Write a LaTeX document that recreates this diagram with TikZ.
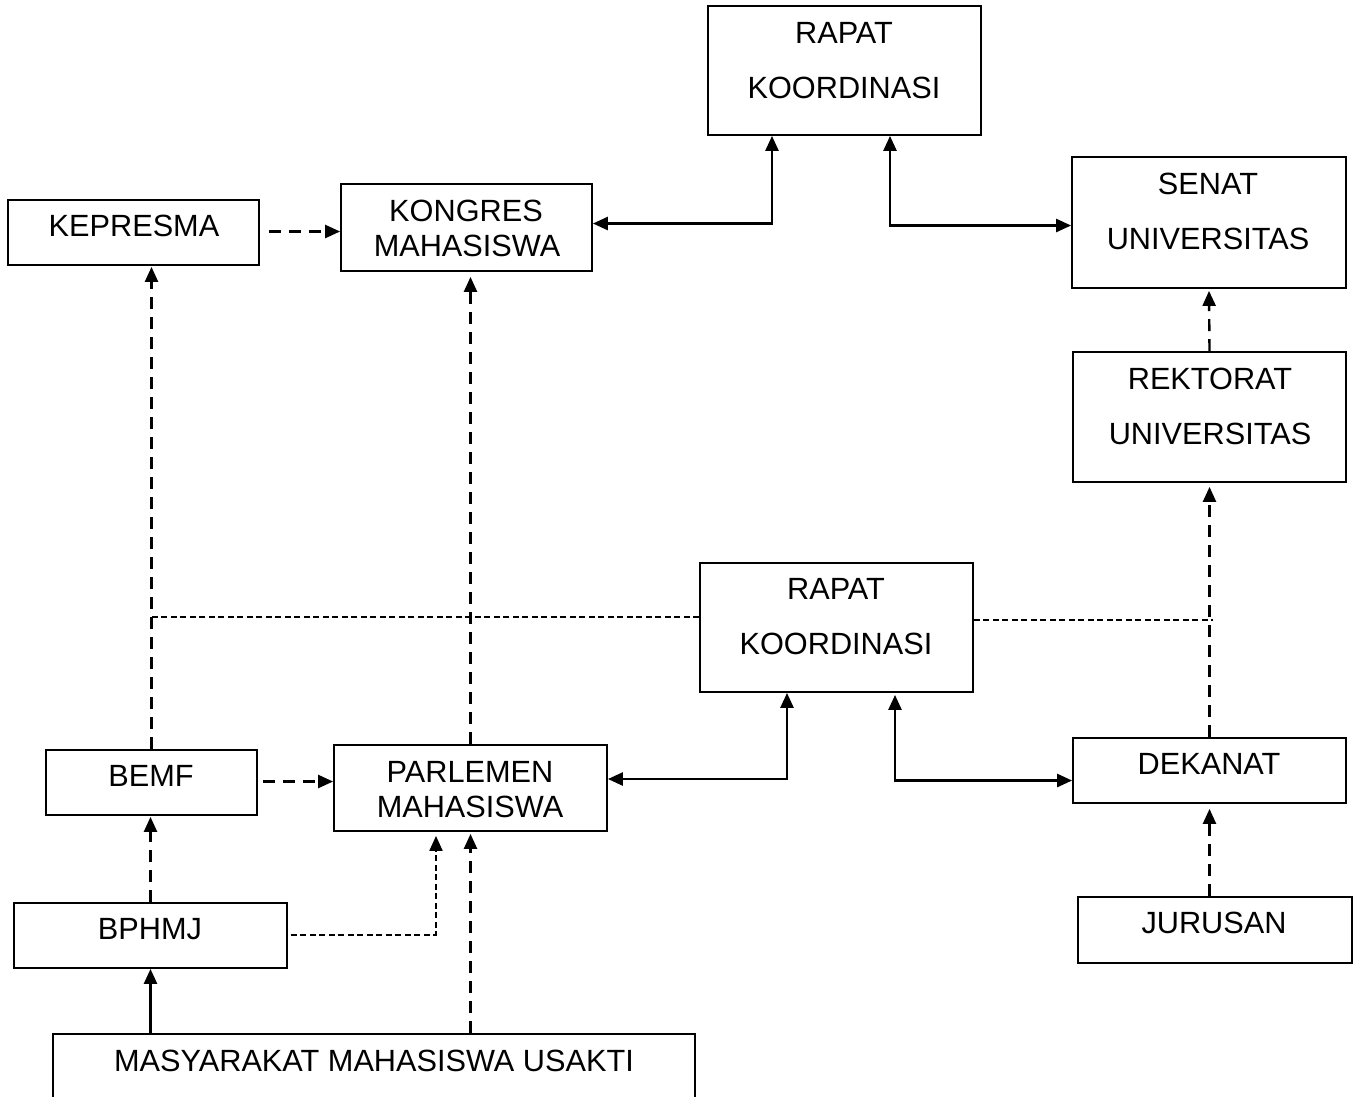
\documentclass[tikz,border=0pt]{standalone}
\usepackage{fontspec}
\setmainfont{Liberation Sans}
\usetikzlibrary{arrows.meta}
\begin{document}
\begin{tikzpicture}[x=1pt,y=-1pt,
  >={Triangle[length=15pt,width=13pt]},
  box/.style={draw,line width=1.8pt,rectangle,inner sep=0pt},
  lbl/.style={font=\fontsize{30.7}{36}\selectfont,inner sep=0pt},
  solidc/.style={line width=2.6pt},
  dsh/.style={line width=2.4pt,dash pattern=on 12pt off 8pt},
  fine/.style={line width=2pt,dash pattern=on 6pt off 3.5pt}]
\useasboundingbox (0,0) rectangle (1356,1096);
\clip (0,0) rectangle (1356,1096);
\fill[white] (0,0) rectangle (1356,1096);
% boxes
\node[box,minimum width=273pt,minimum height=129pt] (rk1) at (844.5,70.5) {};
\node[box,minimum width=251pt,minimum height=65pt]  (kep) at (133.5,232.5) {};
\node[box,minimum width=251pt,minimum height=87pt]  (kon) at (466.5,227.5) {};
\node[box,minimum width=274pt,minimum height=131pt] (sen) at (1209,222.5) {};
\node[box,minimum width=273pt,minimum height=130pt] (rek) at (1209.5,417) {};
\node[box,minimum width=273pt,minimum height=129pt] (rk2) at (836.5,627.5) {};
\node[box,minimum width=211pt,minimum height=65pt]  (bem) at (151.5,782.5) {};
\node[box,minimum width=273pt,minimum height=86pt]  (par) at (470.5,788) {};
\node[box,minimum width=273pt,minimum height=65pt]  (dek) at (1209.5,770.5) {};
\node[box,minimum width=274pt,minimum height=66pt]  (jur) at (1215,930) {};
\node[box,minimum width=273pt,minimum height=65pt]  (bph) at (150.5,935.5) {};
\node[box,minimum width=642pt,minimum height=90pt]  (mas) at (374,1079) {};
% labels
\node[lbl] (rk1a) at (844,33) {RAPAT};
\node[lbl] (rk1b) at (844,88) {KOORDINASI};
\node[lbl] (kepa) at (134,226) {KEPRESMA};
\node[lbl] (kona) at (466,211) {KONGRES};
\node[lbl] (konb) at (467,246) {MAHASISWA};
\node[lbl] (sena) at (1208,184) {SENAT};
\node[lbl] (senb) at (1208,239) {UNIVERSITAS};
\node[lbl] (reka) at (1210,379) {REKTORAT};
\node[lbl] (rekb) at (1210,434) {UNIVERSITAS};
\node[lbl] (rk2a) at (836,589) {RAPAT};
\node[lbl] (rk2b) at (836,644) {KOORDINASI};
\node[lbl] (bema) at (151,776) {BEMF};
\node[lbl] (para) at (470,772) {PARLEMEN};
\node[lbl] (parb) at (470,807) {MAHASISWA};
\node[lbl] (deka) at (1209,764) {DEKANAT};
\node[lbl] (jura) at (1214,923) {JURUSAN};
\node[lbl] (bpha) at (150,929) {BPHMJ};
\node[lbl] (masa) at (374,1061) {MASYARAKAT MAHASISWA USAKTI};
% solid connectors
\draw[solidc,<->] ([yshift=4pt]kon.east) -| ([xshift=-72.5pt]rk1.south);
\draw[solidc,<->] ([xshift=45.5pt]rk1.south) |- ([yshift=-3pt]sen.west);
\draw[solidc,<->] ([yshift=9pt]par.east) -| ([xshift=-49.5pt]rk2.south);
\draw[solidc,<->] ([xshift=58.5pt,yshift=-2pt]rk2.south) |- ([yshift=-10pt]dek.west);
\draw[solidc,->] (mas.north -| bph.south) -- (bph.south);
% dashed connectors
\draw[dsh,->] ([xshift=9pt,yshift=1pt]kep.east) -- ([yshift=1pt]kon.west |- kep.east);
\draw[dsh,->] (rek.north) -- ([yshift=-2pt]sen.south);
\draw[dsh,->] (dek.north) -- ([yshift=-4pt]rek.south);
\draw[dsh,->] (jur.north -| dek.south) -- ([yshift=-5pt]dek.south);
\draw[dsh,->] (bem.north) -- ([yshift=-1pt]bem.north |- kep.south);
\draw[dsh,->] (par.north) -- ([yshift=-5pt]par.north |- kon.south);
\draw[dsh,->] ([xshift=5pt,yshift=1pt]bem.east) -- ([yshift=1pt]par.west |- bem.east);
\draw[dsh,->] (bph.north) -- ([yshift=-1pt]bph.north |- bem.south);
\draw[fine,->] ([xshift=3pt,yshift=1pt]bph.east) -| ([xshift=-34.5pt,yshift=-4pt]par.south);
\draw[dsh,->] (mas.north -| par.south) -- ([yshift=-2pt]par.south);
% horizontal fine dashed line
\coordinate (hl) at ([yshift=11pt]rk2.west);
\coordinate (hr) at ([yshift=8pt]rk2.east);
\draw[fine] (hl) -- (hl -| bem.north);
\draw[fine] (hr) -- ([xshift=3pt]hr -| rek.south);
\end{tikzpicture}
\end{document}
